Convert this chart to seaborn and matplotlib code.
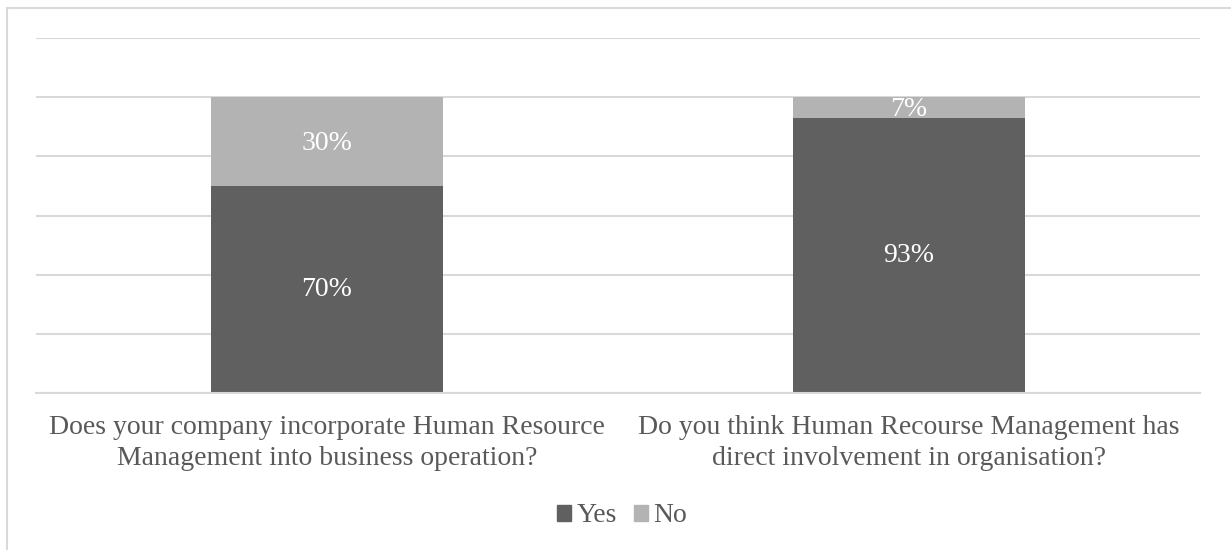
import numpy as np
import pandas as pd
import seaborn as sns
import matplotlib.pyplot as plt
from matplotlib.patches import Rectangle

# ──────────────────────────────────────────────
# Data
# ──────────────────────────────────────────────
questions = [
    "Does your company incorporate Human Resource\nManagement into business operation?",
    "Do you think Human Recourse Management has\ndirect involvement in organisation?",
]
yes_pct = [70, 93]
no_pct = [30, 7]
series = ["Yes", "No"]

YES_COLOR = "#606060"
NO_COLOR = "#b3b3b3"
TEXT_COLOR = "#595959"
GRID_COLOR = "#d9d9d9"
FS = 20

df = pd.DataFrame({"question": questions, "Yes": yes_pct, "No": no_pct})
df["total"] = df["Yes"] + df["No"]

# ──────────────────────────────────────────────
# Plot
# ──────────────────────────────────────────────
sns.set_theme(style="white")
plt.rcParams["font.family"] = ["Liberation Serif", "DejaVu Serif"]

fig = plt.figure(figsize=(12.31, 5.5), dpi=100)
ax = fig.add_axes([36 / 1231, 1 - 393 / 550, 1164 / 1231, 355 / 550])

# stacked: draw total in "No" colour, then "Yes" on top
sns.barplot(data=df, x="question", y="total", color=NO_COLOR, width=0.40,
            saturation=1, ax=ax)
sns.barplot(data=df, x="question", y="Yes", color=YES_COLOR, width=0.40,
            saturation=1, ax=ax)
for p in ax.patches:
    p.set_edgecolor("none")

ax.set_ylim(0, 120)
ax.set_xlim(-0.5, 1.5)
ax.set_yticks(np.arange(0, 121, 20))
ax.set_yticklabels([])
ax.tick_params(axis="y", length=0)
ax.tick_params(axis="x", length=0, pad=16, labelsize=FS, labelcolor=TEXT_COLOR)
for lbl in ax.get_xticklabels():
    lbl.set_linespacing(1.3)
ax.yaxis.grid(True, color=GRID_COLOR, linewidth=1.5)
ax.set_axisbelow(True)
ax.set_xlabel("")
ax.set_ylabel("")
for s in ["top", "right", "left"]:
    ax.spines[s].set_visible(False)
ax.spines["bottom"].set_color(GRID_COLOR)
ax.spines["bottom"].set_linewidth(1.5)

# data labels
for i, row in df.iterrows():
    ax.text(i, row["Yes"] / 2, f"{row['Yes']}%", ha="center", va="center",
            color="white", fontsize=FS)
    ax.text(i, row["Yes"] + row["No"] / 2 - 0.8, f"{row['No']}%", ha="center",
            va="center", color="white", fontsize=FS)

# legend
handles = [Rectangle((0, 0), 1, 1, color=YES_COLOR),
           Rectangle((0, 0), 1, 1, color=NO_COLOR)]
fig.legend(handles, series, loc="center", bbox_to_anchor=(622 / 1231, 1 - 516 / 550),
           ncol=2, frameon=False, fontsize=FS, labelcolor=TEXT_COLOR,
           handlelength=0.5, handleheight=0.5, handletextpad=0.2, columnspacing=0.6)

# outer chart border
fig.patches.append(Rectangle((7 / 1231, -0.1), 1.2, 1 - 8 / 550 + 0.1,
                             transform=fig.transFigure, fill=False,
                             edgecolor=GRID_COLOR, linewidth=1.5))

fig.savefig("out.png", dpi=100)
